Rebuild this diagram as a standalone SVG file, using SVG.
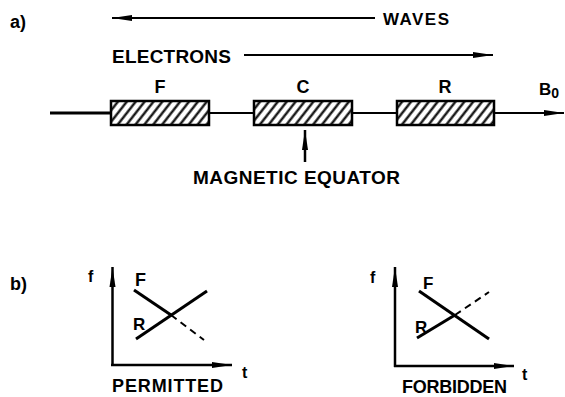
<svg xmlns="http://www.w3.org/2000/svg" width="565" height="397" viewBox="0 0 565 397">
<style>
text{font-family:"Liberation Sans",Arial,sans-serif;font-weight:bold;fill:#000}
.ln{stroke:#000;fill:none}
.box{fill:url(#hatch);stroke:#000;stroke-width:2.5}
.c{text-anchor:middle}
</style>
<defs>
<pattern id="hatch" patternUnits="userSpaceOnUse" width="7" height="7" patternTransform="rotate(38)">
<rect x="0" y="0" width="7" height="7" fill="#fff"/>
<line x1="1.5" y1="0" x2="1.5" y2="7" stroke="#000" stroke-width="2.2"/>
</pattern>
<marker id="ah" markerUnits="userSpaceOnUse" viewBox="0 0 20 8" refX="20" refY="4" markerWidth="20" markerHeight="8" orient="auto">
<path d="M0,1 L20,4 L0,7 Z" fill="#000"/>
</marker>
</defs>
<g id="labels">
<text x="10" y="28" font-size="18">a)</text>
<text x="10" y="290" font-size="18">b)</text>
</g>
<g id="connectors">
<line class="ln" x1="375" y1="18" x2="112" y2="18" stroke-width="2" marker-end="url(#ah)"/>
<line class="ln" x1="244" y1="55" x2="493" y2="55" stroke-width="2" marker-end="url(#ah)"/>
<line class="ln" x1="50" y1="113" x2="111" y2="113" stroke-width="3"/>
<line class="ln" x1="210" y1="113" x2="564" y2="113" stroke-width="2" marker-end="url(#ah)"/>
<line class="ln" x1="305" y1="162" x2="305" y2="130" stroke-width="2.5" marker-end="url(#ah)"/>
</g>
<g id="waves"><text x="383" y="25" font-size="17" textLength="66">WAVES</text></g>
<g id="electrons"><text x="112" y="63" font-size="19" textLength="119">ELECTRONS</text></g>
<g id="boxF"><rect class="box" x="111" y="101" width="98" height="24"/><text class="c" x="160" y="93" font-size="18">F</text></g>
<g id="boxC"><rect class="box" x="254" y="101" width="98" height="24"/><text class="c" x="303" y="93" font-size="18">C</text></g>
<g id="boxR"><rect class="box" x="397" y="101" width="97" height="24"/><text class="c" x="445" y="93" font-size="18">R</text></g>
<g id="b0"><text x="539" y="95" font-size="17">B<tspan font-size="14" dy="3">0</tspan></text></g>
<g id="equator"><text x="193" y="184" font-size="19" textLength="207">MAGNETIC EQUATOR</text></g>
<g id="permitted">
<line class="ln" x1="112.5" y1="366" x2="112.5" y2="267" stroke-width="2.5" marker-end="url(#ah)"/>
<line class="ln" x1="111" y1="365" x2="232" y2="365" stroke-width="2.5" marker-end="url(#ah)"/>
<line class="ln" x1="134" y1="290" x2="171" y2="315" stroke-width="3"/>
<line class="ln" x1="171" y1="315" x2="204" y2="340" stroke-width="2" stroke-dasharray="7,5"/>
<line class="ln" x1="136" y1="339" x2="207" y2="291" stroke-width="3"/>
<text x="88" y="282" font-size="16">f</text>
<text x="242" y="378" font-size="16">t</text>
<text x="135" y="286" font-size="18">F</text>
<text x="133" y="330" font-size="17">R</text>
<text x="112" y="392" font-size="18" textLength="111">PERMITTED</text>
</g>
<g id="forbidden">
<line class="ln" x1="395" y1="367" x2="395" y2="267" stroke-width="2.5" marker-end="url(#ah)"/>
<line class="ln" x1="394" y1="366" x2="514" y2="366" stroke-width="2.5" marker-end="url(#ah)"/>
<line class="ln" x1="419" y1="291" x2="489" y2="339" stroke-width="3"/>
<line class="ln" x1="417" y1="338" x2="455" y2="315" stroke-width="3"/>
<line class="ln" x1="455" y1="315" x2="489" y2="292" stroke-width="2" stroke-dasharray="7,5"/>
<text x="370" y="283" font-size="16">f</text>
<text x="522" y="380" font-size="16">t</text>
<text x="423" y="289" font-size="17">F</text>
<text x="415" y="333" font-size="17">R</text>
<text x="402" y="393" font-size="18" textLength="105">FORBIDDEN</text>
</g>
</svg>
